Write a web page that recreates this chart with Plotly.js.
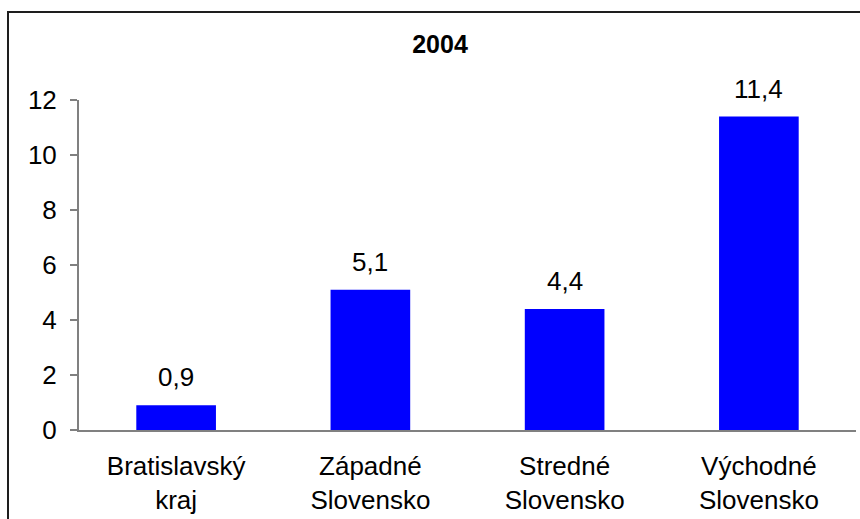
<!DOCTYPE html>
<html>
<head>
<meta charset="utf-8">
<script src="https://cdn.plot.ly/plotly-3.0.1.min.js"></script>
<style>
  html, body { margin: 0; padding: 0; background: #fff; }
  #wrap { position: relative; width: 860px; height: 519px; overflow: hidden; }
  #chart { width: 860px; height: 519px; }
  #frame { position: absolute; left: 7px; top: 11px; width: 900px; height: 600px;
           border-left: 2px solid #1e1e1e; border-top: 2px solid #1e1e1e; pointer-events: none; }
</style>
</head>
<body>
<div id="wrap">
  <div id="chart"></div>
  <div id="frame"></div>
</div>
<script>
const categories = ["Bratislavský<br>kraj", "Západné<br>Slovensko", "Stredné<br>Slovensko", "Východné<br>Slovensko"];
const values = [0.9, 5.1, 4.4, 11.4];
const valueLabels = ["0,9", "5,1", "4,4", "11,4"];
const yTicks = [0, 2, 4, 6, 8, 10, 12];
const chartTitle = "2004";

const FONT = "Liberation Sans, Arial, sans-serif";
const FS = 26;

const trace = {
  type: "bar",
  x: categories,
  y: values,
  marker: { color: "#0000FF", line: { width: 0 } },
  hoverinfo: "skip"
};

const annotations = categories.map((c, i) => ({
  x: c, y: values[i], xref: "x", yref: "y",
  text: valueLabels[i], showarrow: false,
  yanchor: "middle", yshift: 28,
  font: { family: FONT, size: FS, color: "#000" }
}));

const layout = {
  width: 860, height: 519,
  margin: { l: 79, r: 4, t: 100, b: 89 },
  paper_bgcolor: "#fff", plot_bgcolor: "#fff",
  showlegend: false,
  bargap: 0.59,
  title: {
    text: "<b>" + chartTitle + "</b>",
    x: 440 / 860, xanchor: "center",
    y: 1 - 44 / 519, yanchor: "middle",
    font: { family: FONT, size: 25, color: "#000" }
  },
  xaxis: {
    showline: true, linecolor: "#808080", linewidth: 2,
    ticks: "", showgrid: false, zeroline: false,
    tickfont: { family: FONT, size: FS, color: "#000" },
    ticklabelstandoff: 12
  },
  yaxis: {
    range: [0, 12], tickvals: yTicks, ticktext: yTicks.map(String),
    showline: true, linecolor: "#808080", linewidth: 2,
    ticks: "outside", ticklen: 7, tickcolor: "#808080", tickwidth: 2,
    showgrid: false, zeroline: false,
    tickfont: { family: FONT, size: FS, color: "#000" },
    ticklabelstandoff: 8
  },
  annotations: annotations
};

Plotly.newPlot("chart", [trace], layout, { displayModeBar: false, staticPlot: true });
</script>
</body>
</html>
